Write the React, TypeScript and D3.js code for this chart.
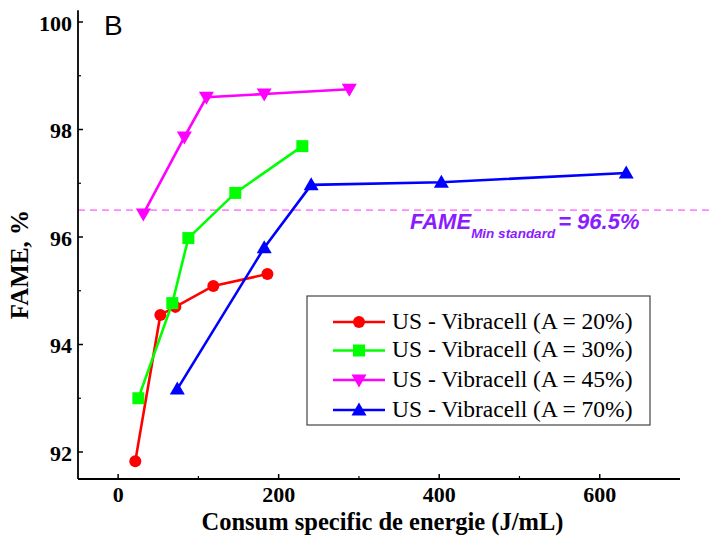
import React from "react";
import * as d3 from "d3";

const seriesNames = [
  "US - Vibracell (A = 20%)",
  "US - Vibracell (A = 30%)",
  "US - Vibracell (A = 45%)",
  "US - Vibracell (A = 70%)",
];
const seriesColors = ["#ff0000", "#00ff00", "#ff00ff", "#0000ff"];
const seriesMarkers = ["circle", "square", "triangleDown", "triangleUp"];

const x20 = [21.4, 52.6, 71.3, 118.6, 186];
const y20 = [91.83, 94.55, 94.7, 95.09, 95.31];
const x30 = [25.2, 67.5, 87.5, 146, 229.5];
const y30 = [93.0, 94.77, 95.98, 96.82, 97.69];
const x45 = [31.4, 82.5, 110, 182, 288];
const y45 = [96.43, 97.86, 98.6, 98.66, 98.75];
const x70 = [73.7, 182, 240.5, 402.7, 633];
const y70 = [93.17, 95.8, 96.97, 97.02, 97.19];

const seriesX = [x20, x30, x45, x70];
const seriesY = [y20, y30, y45, y70];

const xMajorTicks = [0, 200, 400, 600];
const xMinorTicks = [100, 300, 500];
const yMajorTicks = [92, 94, 96, 98, 100];
const yMinorTicks = [93, 95, 97, 99];
const fameMin = 96.5;

const W = 715;
const H = 536;
const left = 78;
const right = 680;
const bottom = 479;

const xScale = d3.scaleLinear().domain([-50, 700]).range([left, right]);
const yScale = d3.scaleLinear().domain([92, 100]).range([452, 22]);
const yTop = yScale(100.22);

const serifStyle = { fontFamily: "Liberation Serif" };
const sansStyle = { fontFamily: "Liberation Sans" };

function Marker({ type, x, y, color }: { type: string; x: number; y: number; color: string }) {
  if (type === "circle") return <circle cx={x} cy={y} r={6} fill={color} />;
  if (type === "square") return <rect x={x - 6} y={y - 6} width={12} height={12} fill={color} />;
  if (type === "triangleDown") {
    const p = `${x - 7.5},${y - 5.5} ${x + 7.5},${y - 5.5} ${x},${y + 7.5}`;
    return <polygon points={p} fill={color} />;
  }
  const p = `${x - 7.5},${y + 5.5} ${x + 7.5},${y + 5.5} ${x},${y - 7.5}`;
  return <polygon points={p} fill={color} />;
}

export default function App() {
  const line = d3
    .line<[number, number]>()
    .x((d) => xScale(d[0]))
    .y((d) => yScale(d[1]));
  const legendX = 307;
  const legendY = 296;
  const rowY = [322, 350.5, 380, 410];
  return (
    <div style={{ position: "absolute", left: 0, top: 0 }}>
      <svg width={W} height={H} style={{ display: "block", background: "#fff" }}>
        <line
          x1={left}
          x2={right + 30}
          y1={yScale(fameMin)}
          y2={yScale(fameMin)}
          stroke="#ff88ff"
          strokeWidth={1.6}
          strokeDasharray="7,5"
        />
        <text x={410} y={229} style={sansStyle} fontWeight="bold" fontStyle="italic" fontSize={22} fill="#8a1cff">
          FAME
          <tspan dy={9} fontSize={13.5}>Min standard</tspan>
          <tspan dy={-9} dx={3} fontSize={22}>= 96.5%</tspan>
        </text>

        <line x1={left} x2={left} y1={yTop} y2={bottom} stroke="#000" strokeWidth={1.8} />
        <line x1={left} x2={right} y1={bottom} y2={bottom} stroke="#000" strokeWidth={1.8} />
        {yMajorTicks.map((t) => (
          <g key={"ym" + t}>
            <line x1={left} x2={left + 5} y1={yScale(t)} y2={yScale(t)} stroke="#000" strokeWidth={1.5} />
            <text x={left - 6} y={yScale(t) + 8.5} textAnchor="end" style={serifStyle} fontWeight="bold" fontSize={22}>
              {String(t)}
            </text>
          </g>
        ))}
        {yMinorTicks.map((t) => (
          <line key={"yn" + t} x1={left} x2={left + 3} y1={yScale(t)} y2={yScale(t)} stroke="#000" strokeWidth={1.2} />
        ))}
        {xMajorTicks.map((t) => (
          <g key={"xm" + t}>
            <line x1={xScale(t)} x2={xScale(t)} y1={bottom} y2={bottom - 5} stroke="#000" strokeWidth={1.5} />
            <text x={xScale(t)} y={bottom + 23} textAnchor="middle" style={serifStyle} fontWeight="bold" fontSize={22}>
              {String(t)}
            </text>
          </g>
        ))}
        {xMinorTicks.map((t) => (
          <line key={"xn" + t} x1={xScale(t)} x2={xScale(t)} y1={bottom} y2={bottom - 3} stroke="#000" strokeWidth={1.2} />
        ))}
        <text x={382.5} y={530} textAnchor="middle" style={serifStyle} fontWeight="bold" fontSize={24.5}>
          Consum specific de energie (J/mL)
        </text>
        <text
          transform="translate(28,264.5) rotate(-90)"
          textAnchor="middle"
          style={serifStyle}
          fontWeight="bold"
          fontSize={25}
        >
          FAME, %
        </text>
        <text x={104} y={35} style={sansStyle} fontSize={28}>
          B
        </text>

        {seriesX.map((xs, i) => {
          const pts = xs.map((xv, j) => [xv, seriesY[i][j]] as [number, number]);
          return (
            <g key={"s" + i}>
              <path d={line(pts) || ""} fill="none" stroke={seriesColors[i]} strokeWidth={2.6} />
              {pts.map((p, j) => (
                <Marker key={j} type={seriesMarkers[i]} x={xScale(p[0])} y={yScale(p[1])} color={seriesColors[i]} />
              ))}
            </g>
          );
        })}

        <rect x={legendX} y={legendY} width={343} height={129} fill="#fff" stroke="#444" strokeWidth={1.2} />
        {seriesNames.map((name, i) => (
          <g key={"l" + i}>
            <line x1={333} x2={385} y1={rowY[i]} y2={rowY[i]} stroke={seriesColors[i]} strokeWidth={2.6} />
            <Marker type={seriesMarkers[i]} x={359} y={rowY[i]} color={seriesColors[i]} />
            <text x={392} y={rowY[i] + 6.5} style={serifStyle} fontSize={23.5}>
              {name}
            </text>
          </g>
        ))}
      </svg>
    </div>
  );
}
